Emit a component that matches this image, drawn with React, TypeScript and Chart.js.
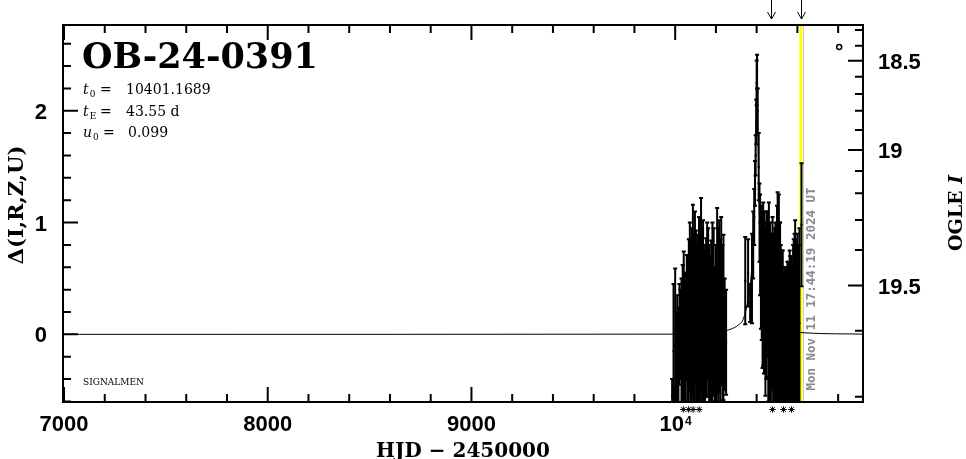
import React, { useEffect, useRef } from "react";
import { Chart, registerables } from "chart.js";

Chart.register(...registerables);

// ---- axis ranges ----
const X_MIN = 6995;
const X_MAX = 10922;
const Y_MIN = -0.605;
const Y_MAX = 2.767;

// ---- data: first season (HJD-2450000, Δ, error) ----
const season1HJD = [9985, 9992, 10000, 10005, 10010, 10016, 10021, 10026, 10031, 10037, 10042, 10047, 10052, 10057, 10062, 10067, 10072, 10077, 10082, 10087, 10092, 10097, 10102, 10107, 10112, 10117, 10122, 10127, 10132, 10137, 10142, 10147, 10152, 10157, 10162, 10167, 10172, 10177, 10183, 10189, 10195, 10200, 10206, 10211, 10216, 10221, 10226, 10232, 10237, 10243, 10250];
const season1Delta = [-0.55, -0.15, -0.1, -0.3, -0.2, -0.3, 0.0, 0.0, -0.1, 0.0, 0.05, -0.1, -0.05, 0.15, 0.0, 0.1, 0.25, 0.05, 0.1, 0.3, 0.1, 0.2, 0.25, 0.0, 0.1, 0.2, 0.15, 0.35, 0.1, 0.2, 0.0, 0.05, 0.15, 0.3, 0.2, 0.0, -0.05, 0.1, 0.2, 0.2, 0.0, 0.1, 0.3, 0.15, 0.25, 0.1, 0.3, 0.1, 0.15, 0.0, -0.07];
const season1Err = [0.15, 0.6, 0.69, 0.5, 0.55, 0.54, 0.45, 0.4, 0.6, 0.62, 0.69, 0.65, 0.6, 0.56, 0.7, 0.75, 0.75, 0.8, 0.85, 0.86, 0.8, 0.9, 0.68, 0.8, 0.79, 0.85, 0.9, 0.87, 0.85, 0.82, 0.75, 0.75, 0.71, 0.7, 0.75, 0.8, 0.75, 0.74, 0.8, 0.75, 0.6, 0.7, 0.83, 0.8, 0.77, 0.75, 0.75, 0.7, 0.74, 0.5, 0.47];

// ---- data: second season ----
const season2HJD = [10344, 10358, 10368, 10377, 10383, 10388, 10392, 10395, 10398, 10400, 10402, 10405, 10410, 10414, 10417, 10421, 10425, 10429, 10432, 10436, 10439, 10443, 10447, 10450, 10453, 10457, 10460, 10463, 10466, 10470, 10474, 10478, 10481, 10485, 10488, 10492, 10496, 10500, 10503, 10506, 10509, 10512, 10515, 10518, 10521, 10525, 10528, 10532, 10536, 10540, 10544, 10547, 10551, 10555, 10558, 10562, 10565, 10569, 10572, 10576, 10579, 10582, 10586, 10589, 10593, 10596, 10600, 10603, 10607, 10610, 10620];
const season2Delta = [0.48, 0.55, 0.28, 0.5, 0.8, 1.05, 1.35, 1.6, 1.9, 2.25, 2.35, 2.0, 1.5, 1.0, 0.8, 0.6, 0.55, 0.4, 0.45, 0.3, 0.55, 0.2, 0.3, 0.45, 0.5, 0.2, 0.4, 0.1, 0.35, 0.0, 0.2, 0.3, 0.1, 0.0, 0.35, 0.1, 0.05, 0.2, 0.35, 0.0, 0.2, 0.1, 0.0, -0.1, -0.2, -0.05, -0.1, -0.2, -0.1, -0.25, -0.15, -0.2, -0.1, -0.2, -0.15, 0.0, -0.1, -0.05, -0.15, -0.1, 0.0, 0.05, 0.1, 0.2, 0.05, 0.0, 0.1, 0.0, 0.05, 0.1, 0.98];
const season2Err = [0.39, 0.3, 0.17, 0.4, 0.3, 0.25, 0.2, 0.18, 0.2, 0.2, 0.15, 0.2, 0.3, 0.35, 0.45, 0.55, 0.6, 0.7, 0.73, 0.65, 0.55, 0.75, 0.7, 0.65, 0.6, 0.8, 0.78, 0.8, 0.65, 0.9, 0.7, 0.75, 0.8, 0.85, 0.6, 0.9, 0.9, 0.95, 0.92, 0.95, 1.05, 0.9, 1.0, 0.9, 0.8, 0.8, 0.85, 0.75, 0.7, 0.8, 0.75, 0.7, 0.75, 0.8, 0.8, 0.75, 0.8, 0.75, 0.8, 0.7, 0.8, 0.8, 0.8, 0.82, 0.8, 0.8, 0.8, 0.75, 0.75, 0.85, 0.55];

// ---- model curve ----
const modelHJD = [6995, 10000, 10150, 10230, 10290, 10315, 10330, 10345, 10357, 10370, 10381, 10389, 10395, 10398, 10401, 10404, 10407, 10413, 10421, 10432, 10445, 10458, 10472, 10487, 10512, 10572, 10652, 10922];
const modelDelta = [0, 0.002, 0.01, 0.025, 0.06, 0.09, 0.12, 0.2, 0.3, 0.47, 0.72, 1.1, 1.7, 2.1, 2.5, 2.1, 1.7, 1.1, 0.72, 0.47, 0.3, 0.2, 0.12, 0.09, 0.05, 0.025, 0.012, 0.002];

// ---- single open point ----
const extraHJD = [10805];
const extraDelta = [2.57];

// ---- asterisk markers under the axis ----
const markerHJD = [10040, 10066, 10088, 10118, 10478, 10532, 10571];
const markerLevel = -0.672;

// ---- tick definitions ----
const xMajorTicks = [7000, 8000, 9000, 10000];
const xMajorLabels = ["7000", "8000", "9000", "10"];
const xMajorSup = ["", "", "", "4"];
const xMinorStep = 200;
const yMajorTicks = [0, 1, 2];
const yMajorLabels = ["0", "1", "2"];
const yMinorStep = 0.2;
const rightMajorLabels = ["18.5", "19", "19.5"];
const rightMajorDelta = [2.448, 1.65, 0.436];
const rightMinorDelta = [2.723, 2.582, 2.305, 2.15, 2.001, 1.828, 1.461, 1.262, 1.023, 0.755, 0.033, -0.557];

// ---- annotations ----
const titleText = "OB-24-0391";
const paramT0 = "10401.1689";
const paramTE = "43.55 d";
const paramU0 = "0.099";
const xTitle = "HJD \u2212 2450000";
const yTitle = "\u0394(I,R,Z,U)";
const y2Title = "OGLE ";
const y2TitleItalic = "I";
const dateText = "Mon Nov 11 17:44:19 2024 UT";
const footText = "SIGNALMEN";
const arrowHJD = [10471, 10618];
const nowHJD = 10617;
const grayLineHJD = 10630;

const toPts = (xs: number[], ys: number[]) => xs.map((x, i) => ({ x, y: ys[i] }));

const backgroundPlugin = {
  id: "bgLines",
  beforeDatasetsDraw(chart: any) {
    const { ctx, chartArea, scales } = chart;
    const x = scales.x;
    ctx.save();
    const xn = x.getPixelForValue(nowHJD);
    ctx.strokeStyle = "#ffff00";
    ctx.lineWidth = 3;
    ctx.beginPath();
    ctx.moveTo(xn, chartArea.top);
    ctx.lineTo(xn, chartArea.bottom);
    ctx.stroke();
    const xg = x.getPixelForValue(grayLineHJD);
    ctx.strokeStyle = "#c8c8c8";
    ctx.lineWidth = 1;
    ctx.beginPath();
    ctx.moveTo(xg, chartArea.top);
    ctx.lineTo(xg, chartArea.bottom);
    ctx.stroke();

    // error bars
    ctx.beginPath();
    ctx.rect(chartArea.left, chartArea.top, chartArea.right - chartArea.left, chartArea.bottom - chartArea.top);
    ctx.clip();
    ctx.strokeStyle = "#000";
    ctx.lineWidth = 2;
    chart.data.datasets.forEach((ds: any) => {
      if (!ds.errors) return;
      ds.data.forEach((p: any, j: number) => {
        const px = x.getPixelForValue(p.x);
        const t = scales.y.getPixelForValue(p.y + ds.errors[j]);
        const b = scales.y.getPixelForValue(p.y - ds.errors[j]);
        ctx.beginPath();
        ctx.moveTo(px, t);
        ctx.lineTo(px, b);
        ctx.moveTo(px - 2, t);
        ctx.lineTo(px + 2, t);
        ctx.moveTo(px - 2, b);
        ctx.lineTo(px + 2, b);
        ctx.stroke();
      });
    });
    ctx.restore();
  },
};

const framePlugin = {
  id: "frame",
  afterDraw(chart: any) {
    const { ctx, chartArea, scales } = chart;
    const x = scales.x;
    const y = scales.y;
    const { left, right, top, bottom } = chartArea;
    ctx.save();
    ctx.strokeStyle = "#000";
    ctx.fillStyle = "#000";
    ctx.lineWidth = 2;
    ctx.strokeRect(left, top, right - left, bottom - top);

    const MAJ = 15;
    const MIN = 8;
    ctx.beginPath();
    for (let v = 7000; v <= X_MAX; v += xMinorStep) {
      const px = x.getPixelForValue(v);
      const len = xMajorTicks.includes(v) ? MAJ : MIN;
      ctx.moveTo(px, bottom);
      ctx.lineTo(px, bottom - len);
      ctx.moveTo(px, top);
      ctx.lineTo(px, top + len);
    }
    for (let k = -3; k * yMinorStep <= Y_MAX; k++) {
      const v = Math.round(k * yMinorStep * 10) / 10;
      if (v < Y_MIN) continue;
      const py = y.getPixelForValue(v);
      const len = yMajorTicks.includes(v) ? MAJ : MIN;
      ctx.moveTo(left, py);
      ctx.lineTo(left + len, py);
    }
    rightMajorDelta.forEach((d) => {
      const py = y.getPixelForValue(d);
      ctx.moveTo(right, py);
      ctx.lineTo(right - MAJ, py);
    });
    rightMinorDelta.forEach((d) => {
      const py = y.getPixelForValue(d);
      ctx.moveTo(right, py);
      ctx.lineTo(right - MIN, py);
    });
    ctx.stroke();

    // asterisk markers below the frame
    ctx.lineWidth = 1;
    const my = y.getPixelForValue(markerLevel);
    markerHJD.forEach((v) => {
      const mx = x.getPixelForValue(v);
      const r = 3.2;
      ctx.beginPath();
      ctx.moveTo(mx, my - r);
      ctx.lineTo(mx, my + r);
      ctx.moveTo(mx - r, my);
      ctx.lineTo(mx + r, my);
      ctx.moveTo(mx - r * 0.7, my - r * 0.7);
      ctx.lineTo(mx + r * 0.7, my + r * 0.7);
      ctx.moveTo(mx - r * 0.7, my + r * 0.7);
      ctx.lineTo(mx + r * 0.7, my - r * 0.7);
      ctx.stroke();
    });

    // tick labels
    const tickFont = 'bold 22px "Liberation Sans"';
    const supFont = 'bold 12px "Liberation Sans"';
    ctx.textBaseline = "alphabetic";
    xMajorTicks.forEach((v, i) => {
      const px = x.getPixelForValue(v);
      const main = xMajorLabels[i];
      ctx.font = tickFont;
      const wMain = ctx.measureText(main).width;
      let wSup = 0;
      if (xMajorSup[i]) {
        ctx.font = supFont;
        wSup = ctx.measureText(xMajorSup[i]).width;
      }
      const start = px - (wMain + wSup) / 2;
      ctx.font = tickFont;
      ctx.textAlign = "left";
      ctx.fillText(main, start, 431);
      if (xMajorSup[i]) {
        ctx.font = supFont;
        ctx.fillText(xMajorSup[i], start + wMain + 1, 425);
      }
    });
    ctx.font = tickFont;
    ctx.textAlign = "right";
    yMajorTicks.forEach((v, i) => {
      ctx.fillText(yMajorLabels[i], 47, y.getPixelForValue(v) + 8);
    });
    ctx.textAlign = "left";
    rightMajorDelta.forEach((d, i) => {
      ctx.fillText(rightMajorLabels[i], 878, y.getPixelForValue(d) + 8);
    });

    // axis titles
    ctx.font = 'bold 20px "DejaVu Serif"';
    ctx.textAlign = "center";
    ctx.fillText(xTitle, (left + right) / 2, 457);

    ctx.save();
    ctx.translate(18, 205);
    ctx.rotate(-Math.PI / 2);
    ctx.font = 'bold 21px "DejaVu Serif"';
    ctx.textAlign = "center";
    ctx.textBaseline = "middle";
    ctx.fillText(yTitle, 0, 0);
    ctx.restore();

    ctx.save();
    ctx.translate(957, 213);
    ctx.rotate(-Math.PI / 2);
    ctx.textBaseline = "middle";
    ctx.textAlign = "left";
    ctx.font = 'bold 19px "DejaVu Serif"';
    const w1 = ctx.measureText(y2Title).width;
    ctx.font = 'bold italic 19px "DejaVu Serif"';
    const w2 = ctx.measureText(y2TitleItalic).width;
    ctx.font = 'bold 19px "DejaVu Serif"';
    ctx.fillText(y2Title, -(w1 + w2) / 2, 0);
    ctx.font = 'bold italic 19px "DejaVu Serif"';
    ctx.fillText(y2TitleItalic, -(w1 + w2) / 2 + w1, 0);
    ctx.restore();

    // title
    ctx.textAlign = "left";
    ctx.textBaseline = "alphabetic";
    ctx.font = 'bold 35px "DejaVu Serif"';
    ctx.fillText(titleText, 82, 68);

    // parameters
    const drawParam = (sym: string, sub: string, val: string, base: number, eqX: number, valX: number) => {
      ctx.font = 'italic 14px "DejaVu Serif"';
      ctx.fillText(sym, 83, base);
      const ws = ctx.measureText(sym).width;
      ctx.font = '9px "DejaVu Serif"';
      ctx.fillText(sub, 83 + ws + 1, base + 3);
      ctx.font = '14px "DejaVu Serif"';
      ctx.fillText("=", eqX, base);
      ctx.fillText(val, valX, base);
    };
    drawParam("t", "0", paramT0, 94, 100, 126);
    drawParam("t", "E", paramTE, 116, 100, 126);
    drawParam("u", "0", paramU0, 137, 103, 128);

    ctx.font = '9px "DejaVu Serif"';
    ctx.fillText(footText, 83, 385);

    // date stamp (vertical)
    ctx.save();
    ctx.translate(812, 289);
    ctx.rotate(-Math.PI / 2);
    ctx.font = 'bold 12.5px "DejaVu Sans Mono"';
    ctx.fillStyle = "#8a8a8a";
    ctx.textAlign = "center";
    ctx.textBaseline = "middle";
    ctx.fillText(dateText, 0, 0);
    ctx.restore();

    // arrows above the plot
    ctx.lineWidth = 1;
    ctx.strokeStyle = "#000";
    arrowHJD.forEach((v) => {
      const px = Math.round(x.getPixelForValue(v)) + 0.5;
      ctx.beginPath();
      ctx.moveTo(px, 0);
      ctx.lineTo(px, 19);
      ctx.moveTo(px - 4, 12);
      ctx.lineTo(px, 19);
      ctx.lineTo(px + 4, 12);
      ctx.stroke();
    });
    ctx.restore();
  },
};

export default function App() {
  const ref = useRef<HTMLCanvasElement | null>(null);
  useEffect(() => {
    document.body.style.margin = "0";
    const canvas = ref.current;
    if (!canvas) return;
    const obs = [...toPts(season1HJD, season1Delta), ...toPts(season2HJD, season2Delta)];
    const errs = [...season1Err, ...season2Err];
    const chart = new Chart(canvas, {
      type: "scatter",
      data: {
        datasets: [
          {
            type: "line",
            label: "model",
            data: toPts(modelHJD, modelDelta),
            borderColor: "#000",
            borderWidth: 1,
            pointRadius: 0,
            cubicInterpolationMode: "monotone",
            fill: false,
          } as any,
          {
            label: "OGLE I",
            data: obs,
            errors: errs,
            pointRadius: 1.5,
            pointStyle: "rect",
            backgroundColor: "#000",
            borderColor: "#000",
            borderWidth: 0,
          } as any,
          {
            label: "extra",
            data: toPts(extraHJD, extraDelta),
            pointRadius: 2.5,
            pointStyle: "circle",
            backgroundColor: "#fff",
            borderColor: "#000",
            borderWidth: 1.5,
          },
        ],
      },
      options: {
        animation: false,
        responsive: false,
        events: [],
        layout: { padding: { left: 63, top: 25, right: 103, bottom: 57 } },
        plugins: { legend: { display: false }, tooltip: { enabled: false } },
        scales: {
          x: { type: "linear", min: X_MIN, max: X_MAX, display: false },
          y: { type: "linear", min: Y_MIN, max: Y_MAX, display: false },
        },
      },
      plugins: [backgroundPlugin, framePlugin],
    });
    return () => chart.destroy();
  }, []);
  return (
    <div style={{ width: 966, height: 459, background: "#fff" }}>
      <canvas ref={ref} width={966} height={459} style={{ display: "block" }} />
    </div>
  );
}
